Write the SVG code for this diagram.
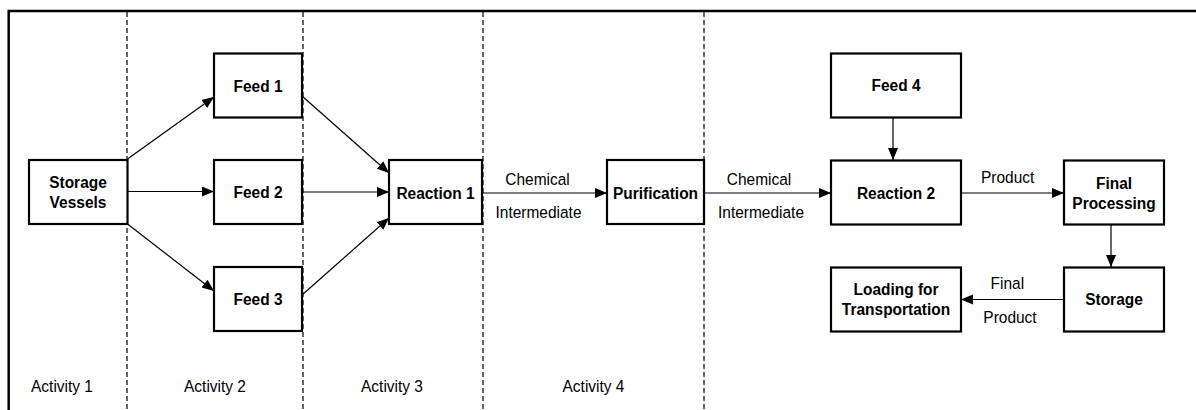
<svg xmlns="http://www.w3.org/2000/svg" width="1196" height="410" viewBox="0 0 1196 410">
<style>
.box{fill:#fff;stroke:#000;stroke-width:2.2}
.bt{font-family:"Liberation Sans",Arial,sans-serif;font-weight:bold;font-size:17px;fill:#000;text-anchor:middle}
.lt{font-family:"Liberation Sans",Arial,sans-serif;font-size:17px;fill:#000;text-anchor:middle}
.dash{stroke:#000;stroke-width:1.2;stroke-dasharray:5 3;fill:none}
.frame{stroke:#000;stroke-width:2.5;fill:none}
.arr{stroke:#000;stroke-width:1.2;fill:none;marker-end:url(#ah)}
</style>
<defs>
<marker id="ah" markerUnits="userSpaceOnUse" markerWidth="13" markerHeight="11" refX="12" refY="5" orient="auto" viewBox="0 0 13 11">
<path d="M0,0 L12,5 L0,10 z" fill="#000"/>
</marker>
</defs>
<rect width="1196" height="410" fill="#fff"/>
<g id="frame">
<path class="frame" d="M8.7,410 V11 H1196"/>
<line class="dash" x1="127" y1="12" x2="127" y2="410"/>
<line class="dash" x1="303" y1="12" x2="303" y2="410"/>
<line class="dash" x1="483" y1="12" x2="483" y2="410"/>
<line class="dash" x1="704" y1="12" x2="704" y2="410"/>
<text class="lt" transform="translate(62,392) scale(0.91,1)">Activity 1</text>
<text class="lt" transform="translate(215,392) scale(0.91,1)">Activity 2</text>
<text class="lt" transform="translate(392,392) scale(0.91,1)">Activity 3</text>
<text class="lt" transform="translate(593.5,392) scale(0.91,1)">Activity 4</text>
</g>
<g id="connectors">
<line class="arr" x1="127.5" y1="159" x2="214" y2="97"/>
<line class="arr" x1="128" y1="191.5" x2="214" y2="191.5"/>
<line class="arr" x1="127.5" y1="224" x2="214" y2="291"/>
<line class="arr" x1="302" y1="96" x2="389" y2="173"/>
<line class="arr" x1="302" y1="192" x2="389" y2="192"/>
<line class="arr" x1="302" y1="295" x2="389" y2="218"/>
<line class="arr" x1="482" y1="193" x2="607" y2="193"/>
<line class="arr" x1="704" y1="193" x2="831" y2="193"/>
<line class="arr" x1="893" y1="118" x2="893" y2="160"/>
<line class="arr" x1="961" y1="193" x2="1064" y2="193"/>
<line class="arr" x1="1111" y1="224" x2="1111" y2="267"/>
<line class="arr" x1="1064" y1="299.5" x2="961" y2="299.5"/>
<text class="lt" transform="translate(537.5,185) scale(0.91,1)">Chemical</text>
<text class="lt" transform="translate(538.5,218.3) scale(0.91,1)">Intermediate</text>
<text class="lt" transform="translate(759,185) scale(0.91,1)">Chemical</text>
<text class="lt" transform="translate(761,218.3) scale(0.91,1)">Intermediate</text>
<text class="lt" transform="translate(1007.7,182.7) scale(0.91,1)">Product</text>
<text class="lt" transform="translate(1007.3,289.3) scale(0.91,1)">Final</text>
<text class="lt" transform="translate(1010,323.3) scale(0.91,1)">Product</text>
</g>
<g id="storage-vessels">
<rect class="box" x="29" y="160" width="98.5" height="64"/>
<text class="bt" transform="translate(78,187.7) scale(0.91,1)">Storage</text>
<text class="bt" transform="translate(78,207.5) scale(0.91,1)">Vessels</text>
</g>
<g id="feed1">
<rect class="box" x="214" y="53.5" width="88" height="64"/>
<text class="bt" transform="translate(258,91.5) scale(0.91,1)">Feed 1</text>
</g>
<g id="feed2">
<rect class="box" x="214" y="160" width="88" height="64"/>
<text class="bt" transform="translate(258,198.3) scale(0.91,1)">Feed 2</text>
</g>
<g id="feed3">
<rect class="box" x="214" y="267" width="88" height="64"/>
<text class="bt" transform="translate(258,305) scale(0.91,1)">Feed 3</text>
</g>
<g id="reaction1">
<rect class="box" x="389" y="160" width="93" height="64"/>
<text class="bt" transform="translate(435.5,198.7) scale(0.91,1)">Reaction 1</text>
</g>
<g id="purification">
<rect class="box" x="607" y="160" width="97" height="64"/>
<text class="bt" transform="translate(655.5,198.7) scale(0.91,1)">Purification</text>
</g>
<g id="feed4">
<rect class="box" x="831" y="53.5" width="130" height="64"/>
<text class="bt" transform="translate(896,91.3) scale(0.91,1)">Feed 4</text>
</g>
<g id="reaction2">
<rect class="box" x="831" y="160.5" width="130" height="64"/>
<text class="bt" transform="translate(896,198.7) scale(0.91,1)">Reaction 2</text>
</g>
<g id="final-processing">
<rect class="box" x="1064" y="160.5" width="100" height="64"/>
<text class="bt" transform="translate(1114,188.5) scale(0.91,1)">Final</text>
<text class="bt" transform="translate(1114,208.5) scale(0.91,1)">Processing</text>
</g>
<g id="storage">
<rect class="box" x="1064" y="267.5" width="100" height="64"/>
<text class="bt" transform="translate(1114,305.3) scale(0.91,1)">Storage</text>
</g>
<g id="loading">
<rect class="box" x="831" y="267.5" width="130" height="64"/>
<text class="bt" transform="translate(896,295.3) scale(0.91,1)">Loading for</text>
<text class="bt" transform="translate(896,315.3) scale(0.91,1)">Transportation</text>
</g>
</svg>
